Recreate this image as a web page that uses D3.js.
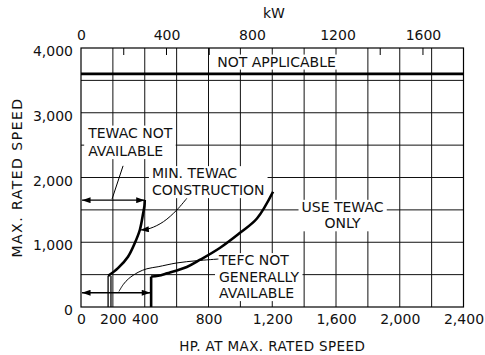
<!DOCTYPE html>
<html>
<head>
<meta charset="utf-8">
<script src="https://cdn.jsdelivr.net/npm/d3@7"></script>
<style>
  body { margin: 0; background: #fff; }
  text { font-family: "DejaVu Sans", sans-serif; fill: #111; }
</style>
</head>
<body>
<script>
// chart values
const hpTicks = [0, 200, 400, 800, 1200, 1600, 2000, 2400];
const rpmTicks = [0, 1000, 2000, 3000, 4000];
const kwTicks = [0, 400, 800, 1200, 1600];
const kwMinorTicks = [200, 400, 600, 1400, 1600];
const hpGrid = [200, 400, 600, 800, 1000, 1200, 1400, 1600, 1800, 2000, 2200];
const rpmGrid = [500, 1000, 1500, 2000, 2500, 3000, 3500];
const notApplicableRpm = 3600;

// min TEWAC construction boundary (hp, rpm)
const tewacStems = [170, 188];
const tewacStemTop = 480;
const tewacCurve = [[170, 480], [232, 600], [295, 777], [337, 984], [369, 1189], [390, 1447], [398, 1560], [400, 1653]];

// TEFC not generally available boundary
const tefcStem = 440;
const tefcCurve = [[440, 470], [484, 482], [540, 520], [664, 618], [748, 730], [873, 915], [1000, 1150], [1104, 1367], [1205, 1780]];

// dimension arrows (rpm, from hp, to hp)
const arrows = [
  { rpm: 1650, from: 0, to: 400 },
  { rpm: 220, from: 0, to: 435 }
];

// leader lines
const tewacLeader = [[264, 2180], [195, 1668]];
const minTewacLeader = [[664, 1679], [601, 1498], [517, 1317], [434, 1215], [372, 1190]];
const tefcLeader = [[862, 741], [727, 715], [600, 680], [484, 622], [413, 590], [358, 535], [300, 440], [266, 350], [238, 240]];

const labels = [
  { lines: ["NOT APPLICABLE"], hp: 1227, rpm: 3792, anchor: "middle", gap: 17 },
  { lines: ["TEWAC NOT", "AVAILABLE"], hp: 45, rpm: 2695, anchor: "start", gap: 18.5 },
  { lines: ["MIN. TEWAC", "CONSTRUCTION"], hp: 445, rpm: 2069, anchor: "start", gap: 17 },
  { lines: ["USE TEWAC", "ONLY"], hp: 1641, rpm: 1549, anchor: "middle", gap: 16.5 },
  { lines: ["TEFC NOT", "GENERALLY", "AVAILABLE"], hp: 866, rpm: 726, anchor: "start", gap: 16.5 }
];

const width = 485, height = 355;
const margin = { top: 48, right: 21.5, bottom: 48, left: 81 };

const svg = d3.select("body").append("svg")
  .attr("width", width)
  .attr("height", height);

const x = d3.scaleLinear().domain([0, 2400]).range([margin.left, width - margin.right]);
const y = d3.scaleLinear().domain([0, 4000]).range([height - margin.bottom, margin.top]);
// kW on top, same pixel range (1 hp = 0.7457 kW)
const xkw = d3.scaleLinear().domain([0, 2400 * 0.7457]).range(x.range());

// arrow markers
const defs = svg.append("defs");
defs.append("marker")
  .attr("id", "head")
  .attr("viewBox", "0 0 10 7")
  .attr("refX", 10).attr("refY", 3.5)
  .attr("markerWidth", 10).attr("markerHeight", 6)
  .attr("markerUnits", "userSpaceOnUse")
  .attr("orient", "auto-start-reverse")
  .append("path").attr("d", "M0,0 L10,3.5 L0,7 Z").attr("fill", "#000");

// grid
svg.append("g").selectAll("line").data(hpGrid).enter().append("line")
  .attr("x1", d => x(d)).attr("x2", d => x(d))
  .attr("y1", y(0)).attr("y2", y(4000))
  .attr("stroke", "#111").attr("stroke-width", 1);
svg.append("g").selectAll("line").data(rpmGrid).enter().append("line")
  .attr("x1", x(0)).attr("x2", x(2400))
  .attr("y1", d => y(d)).attr("y2", d => y(d))
  .attr("stroke", "#111").attr("stroke-width", 1);

// kW minor ticks pointing down
svg.append("g").selectAll("line").data(kwMinorTicks).enter().append("line")
  .attr("x1", d => xkw(d)).attr("x2", d => xkw(d))
  .attr("y1", y(4000)).attr("y2", y(4000) + 7)
  .attr("stroke", "#000").attr("stroke-width", 1);

// labels with white backing
const fs = 14;
labels.forEach(l => {
  const g = svg.append("g");
  const t = g.append("text")
    .attr("font-size", fs)
    .attr("text-anchor", l.anchor);
  l.lines.forEach((s, i) => {
    t.append("tspan")
      .attr("x", x(l.hp))
      .attr("y", y(l.rpm) + 0.365 * fs + i * l.gap)
      .text(s);
  });
  const bb = t.node().getBBox();
  g.insert("rect", "text")
    .attr("x", bb.x - 3).attr("y", bb.y + 1)
    .attr("width", bb.width + 6).attr("height", bb.height - 1)
    .attr("fill", "#fff");
});

// not applicable line
svg.append("line")
  .attr("x1", x(0)).attr("x2", x(2400))
  .attr("y1", y(notApplicableRpm)).attr("y2", y(notApplicableRpm))
  .attr("stroke", "#000").attr("stroke-width", 2.6);

// boundaries
const curve = d3.line().x(d => x(d[0])).y(d => y(d[1])).curve(d3.curveCatmullRom);
svg.selectAll(".stem").data(tewacStems).enter().append("line")
  .attr("x1", d => x(d)).attr("x2", d => x(d))
  .attr("y1", y(0)).attr("y2", y(tewacStemTop))
  .attr("stroke", "#000").attr("stroke-width", 1.3);
svg.append("path").attr("d", curve(tewacCurve))
  .attr("fill", "none").attr("stroke", "#000").attr("stroke-width", 2.6);

svg.append("line")
  .attr("x1", x(tefcStem)).attr("x2", x(tefcStem))
  .attr("y1", y(0)).attr("y2", y(tefcCurve[0][1]))
  .attr("stroke", "#000").attr("stroke-width", 2.6);
svg.append("path").attr("d", curve(tefcCurve))
  .attr("fill", "none").attr("stroke", "#000").attr("stroke-width", 2.6);

// dimension arrows
svg.selectAll(".dim").data(arrows).enter().append("line")
  .attr("x1", d => x(d.from) + 1).attr("x2", d => x(d.to))
  .attr("y1", d => y(d.rpm)).attr("y2", d => y(d.rpm))
  .attr("stroke", "#000").attr("stroke-width", 1.4)
  .attr("marker-start", "url(#head)").attr("marker-end", "url(#head)");

// leaders
const leader = d3.line().x(d => x(d[0])).y(d => y(d[1])).curve(d3.curveCatmullRom);
svg.append("path").attr("d", leader(tewacLeader))
  .attr("fill", "none").attr("stroke", "#000").attr("stroke-width", 1);
svg.append("path").attr("d", leader(minTewacLeader))
  .attr("fill", "none").attr("stroke", "#000").attr("stroke-width", 1)
  .attr("marker-end", "url(#head)");
svg.append("path").attr("d", leader(tefcLeader))
  .attr("fill", "none").attr("stroke", "#000").attr("stroke-width", 1);

// frame
svg.append("rect")
  .attr("x", x(0)).attr("y", y(4000))
  .attr("width", x(2400) - x(0)).attr("height", y(0) - y(4000))
  .attr("fill", "none").attr("stroke", "#000").attr("stroke-width", 1.2);

// axes
const fmt = d3.format(",");
const xAxis = svg.append("g")
  .attr("transform", `translate(0,${y(0)})`)
  .call(d3.axisBottom(x).tickValues(hpTicks).tickSize(0).tickPadding(7).tickFormat(fmt));
const yAxis = svg.append("g")
  .attr("transform", `translate(${x(0)},0)`)
  .call(d3.axisLeft(y).tickValues(rpmTicks).tickSize(0).tickPadding(8).tickFormat(fmt));
yAxis.selectAll("text").attr("dy", "0.55em");
const kwAxis = svg.append("g")
  .attr("transform", `translate(0,${y(4000)})`)
  .call(d3.axisTop(xkw).tickValues(kwTicks).tickSize(0).tickPadding(8).tickFormat(d3.format("d")));
[xAxis, yAxis, kwAxis].forEach(a => {
  a.select(".domain").remove();
  a.attr("font-family", null).attr("font-size", null);
  a.selectAll("text").attr("font-size", fs).attr("fill", "#111");
});

// titles
svg.append("text")
  .attr("x", 274).attr("y", 18)
  .attr("text-anchor", "middle").attr("font-size", fs)
  .text("kW");
svg.append("text")
  .attr("x", (x(0) + x(2400)) / 2).attr("y", 351)
  .attr("text-anchor", "middle").attr("font-size", 13.5)
  .attr("letter-spacing", 0.4)
  .text("HP. AT MAX. RATED SPEED");
svg.append("text")
  .attr("transform", `translate(22,${(y(0) + y(4000)) / 2}) rotate(-90)`)
  .attr("text-anchor", "middle").attr("font-size", fs)
  .attr("letter-spacing", 1.5)
  .text("MAX. RATED SPEED");
</script>
</body>
</html>
